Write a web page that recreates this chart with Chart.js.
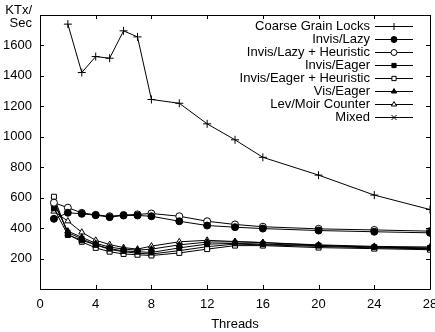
<!DOCTYPE html>
<html>
<head>
<meta charset="utf-8">
<script src="https://cdn.jsdelivr.net/npm/chart.js@4/dist/chart.umd.min.js"></script>
<style>
    html, body { margin: 0; padding: 0; background: #fff; }
    #wrap { width: 435px; height: 332px; }
</style>
</head>
<body>
<div id="wrap"><canvas id="threadsChart" width="435" height="332"></canvas></div>
<script>
const threads = [1, 2, 3, 4, 5, 6, 7, 8, 10, 12, 14, 16, 20, 24, 28];

const coarseLocks = [null, 1740, 1422, 1527, 1516, 1696, 1656, 1245, 1220, 1085, 980, 865, 748, 617, 522];
const invisLazy = [461, 501, 494, 485, 472, 483, 483, 478, 445, 417, 406, 397, 384, 376, 369];
const invisLazyHeur = [567, 534, 500, 487, 478, 486, 490, 496, 478, 445, 424, 409, 395, 388, 380];
const invisEager = [530, 355, 320, 290, 265, 250, 245, 240, 270, 295, 300, 295, 285, 275, 270];
const invisEagerHeur = [606, 360, 310, 270, 245, 230, 225, 220, 237, 262, 285, 285, 272, 265, 258];
const visEager = [560, 380, 340, 300, 275, 262, 255, 262, 290, 308, 310, 305, 290, 280, 276];
const levMoir = [510, 446, 373, 320, 292, 272, 262, 282, 310, 320, 312, 305, 286, 276, 266];
const mixed = [580, 370, 330, 290, 260, 245, 235, 230, 252, 278, 295, 290, 280, 270, 264];

const seriesLabels = [
    'Coarse Grain Locks',
    'Invis/Lazy',
    'Invis/Lazy + Heuristic',
    'Invis/Eager',
    'Invis/Eager + Heuristic',
    'Vis/Eager',
    'Lev/Moir Counter',
    'Mixed',
];

const yUnitLines = ['KTx/', 'Sec'];
const yTicksMax = 1800;

function toPoints(values) {
    return threads.map((t, i) => ({ x: t, y: values[i] }));
}

function makeSeries(label, values, style, filled) {
    return {
        label: label,
        data: toPoints(values),
        borderColor: '#000',
        borderWidth: 1,
        backgroundColor: filled ? '#000' : '#fff',
        pointStyle: style,
        pointRadius: style === 'cross' || style === 'crossRot' ? 4 : 3.5,
        pointBorderColor: '#000',
        pointBorderWidth: 1,
        pointBackgroundColor: filled ? '#000' : '#fff',
        spanGaps: false,
        tension: 0,
        fill: false,
    };
}

// gnuplot style frame with inward ticks on every side
const frameTicks = {
    id: 'frameTicks',
    afterDatasetsDraw(chart) {
        const ctx = chart.ctx;
        const area = chart.chartArea;
        const xs = chart.scales.x;
        const ys = chart.scales.y;
        const len = 4;
        ctx.save();
        ctx.strokeStyle = '#000';
        ctx.lineWidth = 1;
        ctx.beginPath();
        ctx.rect(area.left + 0.5, area.top + 0.5, area.right - area.left, area.bottom - area.top);
        xs.ticks.forEach((t) => {
            const px = Math.round(xs.getPixelForValue(t.value)) + 0.5;
            ctx.moveTo(px, area.bottom);
            ctx.lineTo(px, area.bottom - len);
            ctx.moveTo(px, area.top);
            ctx.lineTo(px, area.top + len);
        });
        ys.ticks.forEach((t) => {
            const py = Math.round(ys.getPixelForValue(t.value)) + 0.5;
            ctx.moveTo(area.left, py);
            ctx.lineTo(area.left + len, py);
            ctx.moveTo(area.right, py);
            ctx.lineTo(area.right - len, py);
        });
        ctx.stroke();

        // unit label sits where the top tick label would be
        const top = ys.getPixelForValue(yTicksMax);
        ctx.fillStyle = '#000';
        ctx.font = '13px "Liberation Sans", Arial, sans-serif';
        ctx.textAlign = 'right';
        ctx.textBaseline = 'middle';
        ctx.fillText(yUnitLines[0], area.left - 8, top - 5);
        ctx.fillText(yUnitLines[1], area.left - 8, top + 8);
        ctx.restore();
    },
};

// key in the top right corner: right aligned text, sample line on the right
const keyBox = {
    id: 'keyBox',
    afterDraw(chart) {
        const ctx = chart.ctx;
        const area = chart.chartArea;
        const textRight = area.right - 60;
        const lineLeft = area.right - 55;
        const lineRight = area.right - 17;
        ctx.save();
        ctx.font = '13px "Liberation Sans", Arial, sans-serif';
        ctx.textAlign = 'right';
        ctx.textBaseline = 'middle';
        chart.data.datasets.forEach((ds, i) => {
            const y = area.top + 11 + i * 13;
            ctx.fillStyle = '#000';
            ctx.fillText(ds.label, textRight, y);
            ctx.strokeStyle = '#000';
            ctx.lineWidth = 1;
            ctx.beginPath();
            ctx.moveTo(lineLeft, y + 0.5);
            ctx.lineTo(lineRight, y + 0.5);
            ctx.stroke();
            ctx.fillStyle = ds.pointBackgroundColor;
            Chart.helpers.drawPoint(ctx, {
                pointStyle: ds.pointStyle,
                radius: ds.pointRadius - 0.5,
                borderWidth: 1,
                rotation: 0,
            }, (lineLeft + lineRight) / 2, y + 0.5);
        });
        ctx.restore();
    },
};

document.addEventListener('DOMContentLoaded', () => {
    Chart.defaults.font.family = '"Liberation Sans", Arial, sans-serif';
    Chart.defaults.font.size = 13;
    Chart.defaults.color = '#000';

    const datasets = [
        makeSeries(seriesLabels[0], coarseLocks, 'cross', true),
        makeSeries(seriesLabels[1], invisLazy, 'circle', true),
        makeSeries(seriesLabels[2], invisLazyHeur, 'circle', false),
        makeSeries(seriesLabels[3], invisEager, 'rect', true),
        makeSeries(seriesLabels[4], invisEagerHeur, 'rect', false),
        makeSeries(seriesLabels[5], visEager, 'triangle', true),
        makeSeries(seriesLabels[6], levMoir, 'triangle', false),
        makeSeries(seriesLabels[7], mixed, 'crossRot', true),
    ];

    new Chart(document.getElementById('threadsChart'), {
        type: 'line',
        data: { datasets: datasets },
        plugins: [frameTicks, keyBox],
        options: {
            responsive: false,
            animation: false,
            layout: {
                padding: { top: 15, right: 3, left: 0, bottom: 0 },
            },
            plugins: {
                legend: { display: false },
                tooltip: { enabled: false },
            },
            scales: {
                x: {
                    type: 'linear',
                    min: 0,
                    max: 28,
                    grid: { display: false, drawTicks: false },
                    border: { display: false },
                    ticks: {
                        stepSize: 4,
                        padding: 8,
                        color: '#000',
                        maxRotation: 0,
                        autoSkip: false,
                    },
                    title: {
                        display: true,
                        text: 'Threads',
                        color: '#000',
                        padding: { top: 0, bottom: 0 },
                    },
                    afterFit(scale) {
                        scale.height = 43;
                        scale.paddingLeft = 0;
                        scale.paddingRight = 0;
                    },
                },
                y: {
                    min: 0,
                    max: yTicksMax,
                    grid: { display: false, drawTicks: false },
                    border: { display: false },
                    ticks: {
                        stepSize: 200,
                        padding: 8,
                        color: '#000',
                        autoSkip: false,
                        callback(value) {
                            if (value === 0 || value === yTicksMax) {
                                return '';
                            }
                            return value;
                        },
                    },
                    afterFit(scale) {
                        scale.width = 40;
                        scale.paddingTop = 0;
                        scale.paddingBottom = 0;
                    },
                },
            },
        },
    });
});
</script>
</body>
</html>
